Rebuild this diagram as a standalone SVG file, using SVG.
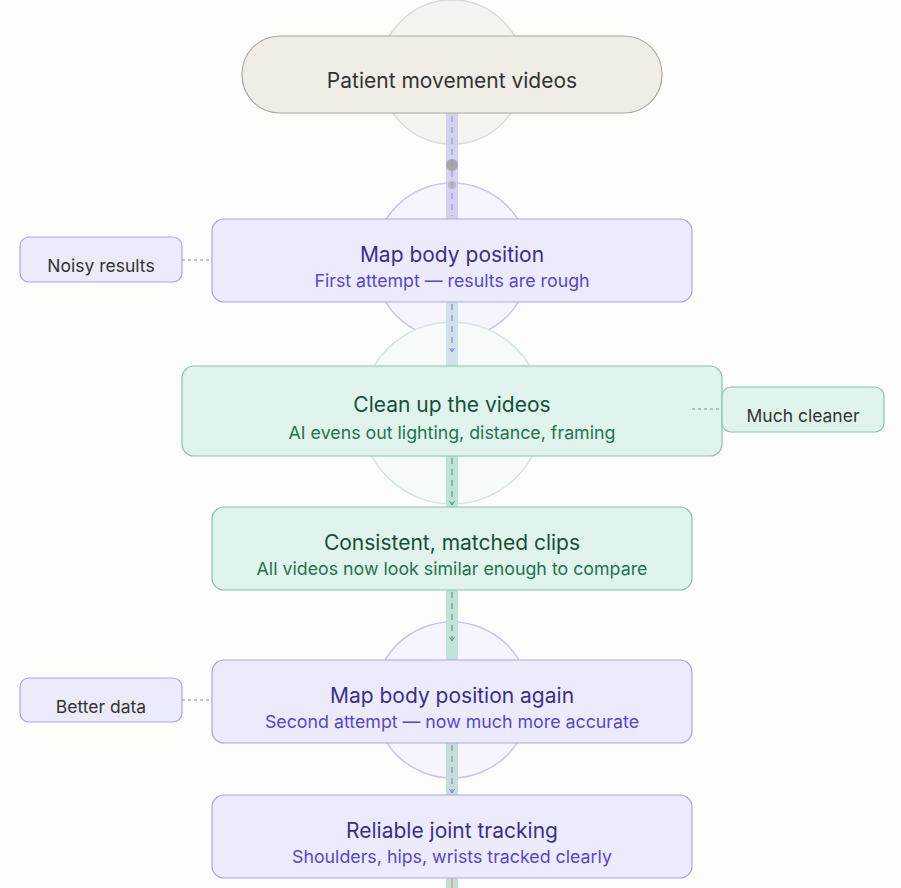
<svg xmlns="http://www.w3.org/2000/svg" width="901" height="888" viewBox="0 0 901 888">
<defs>
<style>
.t{font-family:"Inter","Noto Sans",sans-serif;text-anchor:middle}
.pu{fill:#ecebfc;stroke:#aaa5e6;stroke-width:1.2}
.gr{fill:#e0f3ec;stroke:#88c4aa;stroke-width:1.2}
.tp{fill:#3b2f8c;font-size:21px}.sp{fill:#5648c8;font-size:17.8px}
.tg{fill:#174f3b;font-size:21px}.sg{fill:#24734f;font-size:17.8px}
.note{fill:#333;font-size:17.5px}
.dash{stroke-dasharray:6 5;stroke-width:1.2;fill:none}
.side{stroke:#777;stroke-dasharray:3 3;stroke-width:0.8;fill:none}
</style>
<marker id="ap" markerWidth="6" markerHeight="6" refX="3" refY="5" markerUnits="userSpaceOnUse"><path d="M0.5,1 L3,5 L5.5,1" fill="none" stroke="#8a84d6" stroke-width="1"/></marker>
<marker id="ag" markerWidth="6" markerHeight="6" refX="3" refY="5" markerUnits="userSpaceOnUse"><path d="M0.5,1 L3,5 L5.5,1" fill="none" stroke="#5a9c80" stroke-width="1"/></marker>
</defs>
<rect width="901" height="888" fill="#fdfdfc"/>
<g id="halos">
<circle cx="452" cy="72" r="72" fill="#f6f4f0" stroke="#dcdad4" stroke-width="1.5"/>
<circle cx="452" cy="261" r="78" fill="#f6f5fe" stroke="#c9c5f0" stroke-width="1.5"/>
<circle cx="452" cy="413" r="91" fill="#f6faf8" stroke="#d3e6dd" stroke-width="1.5"/>
<circle cx="452" cy="700" r="78" fill="#f6f5fe" stroke="#c9c5f0" stroke-width="1.5"/>
</g>
<g id="connectors">
<rect x="446" y="113" width="12" height="106" fill="#c9c8ee" opacity="0.8"/>
<rect x="446" y="302" width="12" height="64" fill="#c6dce6" opacity="0.8"/>
<rect x="446" y="456" width="12" height="51" fill="#bfe3d6"/>
<rect x="446" y="590" width="12" height="70" fill="#bfe3d6"/>
<rect x="446" y="743" width="12" height="52" fill="#c3dfd8"/>
<rect x="446" y="878" width="12" height="10" fill="#c3dfd8"/>
<line x1="452" y1="878" x2="452" y2="888" stroke="#e0a080" stroke-width="1.5"/>
<line x1="452" y1="116" x2="452" y2="216" class="dash" stroke="#9a95dc"/>
<circle cx="452" cy="165" r="6" fill="#9a9a9a" opacity="0.8"/>
<circle cx="452" cy="185" r="4" fill="#a8a8b8" opacity="0.6"/>
<line x1="452" y1="304" x2="452" y2="352" class="dash" stroke="#8a84d6" marker-end="url(#ap)"/>
<line x1="452" y1="458" x2="452" y2="505" class="dash" stroke="#5a9c80" marker-end="url(#ag)"/>
<line x1="452" y1="592" x2="452" y2="641" class="dash" stroke="#5a9c80" marker-end="url(#ag)"/>
<line x1="452" y1="745" x2="452" y2="793" class="dash" stroke="#8a84d6" marker-end="url(#ap)"/>
</g>
<g id="n-videos"><rect x="242" y="36" width="420" height="77" rx="38" fill="#f0ede6" stroke="#aaa8a0" stroke-width="1.2"/><text class="t" x="452" y="88" fill="#333" font-size="21">Patient movement videos</text></g>
<g id="n-map1"><rect class="pu" x="212" y="219" width="480" height="83" rx="12"/><text class="t tp" x="452" y="262">Map body position</text><text class="t sp" x="452" y="287">First attempt — results are rough</text></g>
<g id="n-clean"><rect class="gr" x="182" y="366" width="540" height="90" rx="12"/><text class="t tg" x="452" y="412">Clean up the videos</text><text class="t sg" x="452" y="439">AI evens out lighting, distance, framing</text></g>
<g id="n-consistent"><rect class="gr" x="212" y="507" width="480" height="83" rx="12"/><text class="t tg" x="452" y="550">Consistent, matched clips</text><text class="t sg" x="452" y="575">All videos now look similar enough to compare</text></g>
<g id="n-map2"><rect class="pu" x="212" y="660" width="480" height="83" rx="12"/><text class="t tp" x="452" y="703">Map body position again</text><text class="t sp" x="452" y="728">Second attempt — now much more accurate</text></g>
<g id="n-reliable"><rect class="pu" x="212" y="795" width="480" height="83" rx="12"/><text class="t tp" x="452" y="838">Reliable joint tracking</text><text class="t sp" x="452" y="863">Shoulders, hips, wrists tracked clearly</text></g>
<g id="note-noisy"><rect class="pu" x="20" y="237" width="162" height="45" rx="9"/><text class="t note" x="101" y="272">Noisy results</text></g>
<g id="note-cleaner"><rect class="gr" x="722" y="387" width="162" height="45" rx="9"/><text class="t note" x="803" y="422">Much cleaner</text></g>
<g id="note-better"><rect class="pu" x="20" y="678" width="162" height="44" rx="9"/><text class="t note" x="101" y="713">Better data</text></g>
<g id="side-links">
<line x1="182" y1="260" x2="212" y2="260" class="side"/>
<line x1="692" y1="409" x2="722" y2="409" class="side"/>
<line x1="182" y1="700" x2="212" y2="700" class="side"/>
</g>
</svg>
